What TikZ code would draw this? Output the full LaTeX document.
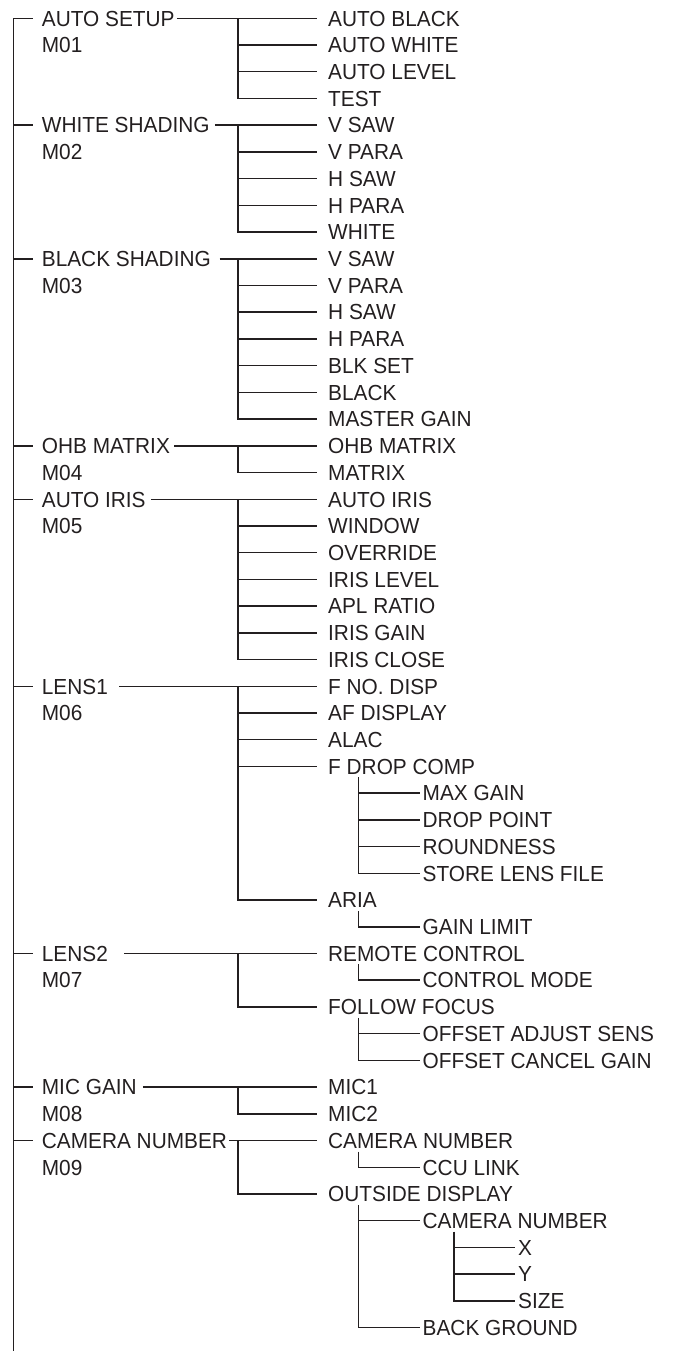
\documentclass[tikz,border=0pt]{standalone}
\usepackage{fontspec}
\setmainfont[FakeStretch=0.955]{Liberation Sans}
\definecolor{ink}{HTML}{231F20}
\newcommand\rowy[1]{-18.3-26.72*(#1-1)}
\tikzset{
  lab/.style={anchor=west, inner ysep=0pt, text height=18.5pt, text depth=3pt,
              font=\fontsize{21.8}{24}\selectfont, text=ink},
  l1/.style={lab, inner xsep=0pt},
  l2/.style={lab, inner xsep=11.5pt},
  l3/.style={lab, inner xsep=3pt},
  conn/.style={draw=ink, line width=1.5pt}
}
\begin{document}
\begin{tikzpicture}[x=1pt,y=1pt]
\useasboundingbox (0,0) rectangle (674,-1351);
% ---------- level 1 ----------
\node[l1] (a1) at (41.7,{\rowy{1}}) {AUTO SETUP};
\node[l1] (m1) at (41.7,{\rowy{2}}) {M01};
\node[l1] (a2) at (41.7,{\rowy{5}}) {WHITE SHADING};
\node[l1] (m2) at (41.7,{\rowy{6}}) {M02};
\node[l1] (a3) at (41.7,{\rowy{10}}) {BLACK SHADING};
\node[l1] (m3) at (41.7,{\rowy{11}}) {M03};
\node[l1] (a4) at (41.7,{\rowy{17}}) {OHB MATRIX};
\node[l1] (m4) at (41.7,{\rowy{18}}) {M04};
\node[l1] (a5) at (41.7,{\rowy{19}}) {AUTO IRIS};
\node[l1] (m5) at (41.7,{\rowy{20}}) {M05};
\node[l1] (a6) at (41.7,{\rowy{26}}) {LENS1};
\node[l1] (m6) at (41.7,{\rowy{27}}) {M06};
\node[l1] (a7) at (41.7,{\rowy{36}}) {LENS2};
\node[l1] (m7) at (41.7,{\rowy{37}}) {M07};
\node[l1] (a8) at (41.7,{\rowy{41}}) {MIC GAIN};
\node[l1] (m8) at (41.7,{\rowy{42}}) {M08};
\node[l1] (a9) at (41.7,{\rowy{43}}) {CAMERA NUMBER};
\node[l1] (m9) at (41.7,{\rowy{44}}) {M09};
% ---------- level 2 ----------
\node[l2] (b1) at (316.5,{\rowy{1}}) {AUTO BLACK};
\node[l2] (b2) at (316.5,{\rowy{2}}) {AUTO WHITE};
\node[l2] (b3) at (316.5,{\rowy{3}}) {AUTO LEVEL};
\node[l2] (b4) at (316.5,{\rowy{4}}) {TEST};
\node[l2] (c1) at (316.5,{\rowy{5}}) {V SAW};
\node[l2] (c2) at (316.5,{\rowy{6}}) {V PARA};
\node[l2] (c3) at (316.5,{\rowy{7}}) {H SAW};
\node[l2] (c4) at (316.5,{\rowy{8}}) {H PARA};
\node[l2] (c5) at (316.5,{\rowy{9}}) {WHITE};
\node[l2] (d1) at (316.5,{\rowy{10}}) {V SAW};
\node[l2] (d2) at (316.5,{\rowy{11}}) {V PARA};
\node[l2] (d3) at (316.5,{\rowy{12}}) {H SAW};
\node[l2] (d4) at (316.5,{\rowy{13}}) {H PARA};
\node[l2] (d5) at (316.5,{\rowy{14}}) {BLK SET};
\node[l2] (d6) at (316.5,{\rowy{15}}) {BLACK};
\node[l2] (d7) at (316.5,{\rowy{16}}) {MASTER GAIN};
\node[l2] (e1) at (316.5,{\rowy{17}}) {OHB MATRIX};
\node[l2] (e2) at (316.5,{\rowy{18}}) {MATRIX};
\node[l2] (f1) at (316.5,{\rowy{19}}) {AUTO IRIS};
\node[l2] (f2) at (316.5,{\rowy{20}}) {WINDOW};
\node[l2] (f3) at (316.5,{\rowy{21}}) {OVERRIDE};
\node[l2] (f4) at (316.5,{\rowy{22}}) {IRIS LEVEL};
\node[l2] (f5) at (316.5,{\rowy{23}}) {APL RATIO};
\node[l2] (f6) at (316.5,{\rowy{24}}) {IRIS GAIN};
\node[l2] (f7) at (316.5,{\rowy{25}}) {IRIS CLOSE};
\node[l2] (g1) at (316.5,{\rowy{26}}) {F NO. DISP};
\node[l2] (g2) at (316.5,{\rowy{27}}) {AF DISPLAY};
\node[l2] (g3) at (316.5,{\rowy{28}}) {ALAC};
\node[l2] (g4) at (316.5,{\rowy{29}}) {F DROP COMP};
\node[l2] (g5) at (316.5,{\rowy{34}}) {ARIA};
\node[l2] (h1) at (316.5,{\rowy{36}}) {REMOTE CONTROL};
\node[l2] (h2) at (316.5,{\rowy{38}}) {FOLLOW FOCUS};
\node[l2] (i1) at (316.5,{\rowy{41}}) {MIC1};
\node[l2] (i2) at (316.5,{\rowy{42}}) {MIC2};
\node[l2] (j1) at (316.5,{\rowy{43}}) {CAMERA NUMBER};
\node[l2] (j2) at (316.5,{\rowy{45}}) {OUTSIDE DISPLAY};
% ---------- level 3 ----------
\node[l3] (p1) at (419.5,{\rowy{30}}) {MAX GAIN};
\node[l3] (p2) at (419.5,{\rowy{31}}) {DROP POINT};
\node[l3] (p3) at (419.5,{\rowy{32}}) {ROUNDNESS};
\node[l3] (p4) at (419.5,{\rowy{33}}) {STORE LENS FILE};
\node[l3] (q1) at (419.5,{\rowy{35}}) {GAIN LIMIT};
\node[l3] (r1) at (419.5,{\rowy{37}}) {CONTROL MODE};
\node[l3] (s1) at (419.5,{\rowy{39}}) {OFFSET ADJUST SENS};
\node[l3] (s2) at (419.5,{\rowy{40}}) {OFFSET CANCEL GAIN};
\node[l3] (t1) at (419.5,{\rowy{44}}) {CCU LINK};
\node[l3] (u1) at (419.5,{\rowy{46}}) {CAMERA NUMBER};
\node[l3] (u2) at (419.5,{\rowy{50}}) {BACK GROUND};
% ---------- level 4 ----------
\node[l3] (w1) at (515,{\rowy{47}}) {X};
\node[l3] (w2) at (515,{\rowy{48}}) {Y};
\node[l3] (w3) at (515,{\rowy{49}}) {SIZE};
% ---------- guide coordinates ----------
\coordinate (top) at (13.3,{\rowy{1}});
\coordinate (bot) at (13.3,-1351);
\coordinate (v2) at (238,0);
\coordinate (v3) at (358.3,0);
\coordinate (v4) at (454,0);
% ---------- spine ----------
\draw[conn] (bot) -- (top) -- ([xshift=-8.5pt]a1.west);
\foreach \n in {a2,a3,a4,a5,a6,a7,a8,a9}
  \draw[conn] (top |- \n.west) -- ([xshift=-8.5pt]\n.west);
% ---------- level 1 -> level 2 ----------
\draw[conn, shorten <=2pt] (a1.east) -- (b1.west);
\draw[conn] (v2 |- b1.west) |- (b4.west);
\foreach \n in {b2,b3} \draw[conn] (v2 |- \n.west) -- (\n.west);

\draw[conn, shorten <=5pt] (a2.east) -- (c1.west);
\draw[conn] (v2 |- c1.west) |- (c5.west);
\foreach \n in {c2,c3,c4} \draw[conn] (v2 |- \n.west) -- (\n.west);

\draw[conn, shorten <=8.5pt] (a3.east) -- (d1.west);
\draw[conn] (v2 |- d1.west) |- (d7.west);
\foreach \n in {d2,d3,d4,d5,d6} \draw[conn] (v2 |- \n.west) -- (\n.west);

\draw[conn, shorten <=4pt] (a4.east) -- (e1.west);
\draw[conn] (v2 |- e1.west) |- (e2.west);

\draw[conn, shorten <=5pt] (a5.east) -- (f1.west);
\draw[conn] (v2 |- f1.west) |- (f7.west);
\foreach \n in {f2,f3,f4,f5,f6} \draw[conn] (v2 |- \n.west) -- (\n.west);

\draw[conn, shorten <=11pt] (a6.east) -- (g1.west);
\draw[conn] (v2 |- g1.west) |- (g5.west);
\foreach \n in {g2,g3,g4} \draw[conn] (v2 |- \n.west) -- (\n.west);

\draw[conn, shorten <=16pt] (a7.east) -- (h1.west);
\draw[conn] (v2 |- h1.west) |- (h2.west);

\draw[conn, shorten <=6pt] (a8.east) -- (i1.west);
\draw[conn] (v2 |- i1.west) |- (i2.west);

\draw[conn, shorten <=2pt] (a9.east) -- (j1.west);
\draw[conn] (v2 |- j1.west) |- (j2.west);
% ---------- level 2 -> level 3 ----------
\draw[conn] (v3 |- g4.south) |- (p4.west);
\foreach \n in {p1,p2,p3} \draw[conn] (v3 |- \n.west) -- (\n.west);
\draw[conn] (v3 |- g5.south) |- (q1.west);
\draw[conn] (v3 |- h1.south) |- (r1.west);
\draw[conn] (v3 |- h2.south) |- (s2.west);
\draw[conn] (v3 |- s1.west) -- (s1.west);
\draw[conn] (v3 |- j1.south) |- (t1.west);
\draw[conn] (v3 |- j2.south) |- (u2.west);
\draw[conn] (v3 |- u1.west) -- (u1.west);
% ---------- level 3 -> level 4 ----------
\draw[conn] (v4 |- u1.south) |- (w3.west);
\foreach \n in {w1,w2} \draw[conn] (v4 |- \n.west) -- (\n.west);
\end{tikzpicture}
\end{document}
